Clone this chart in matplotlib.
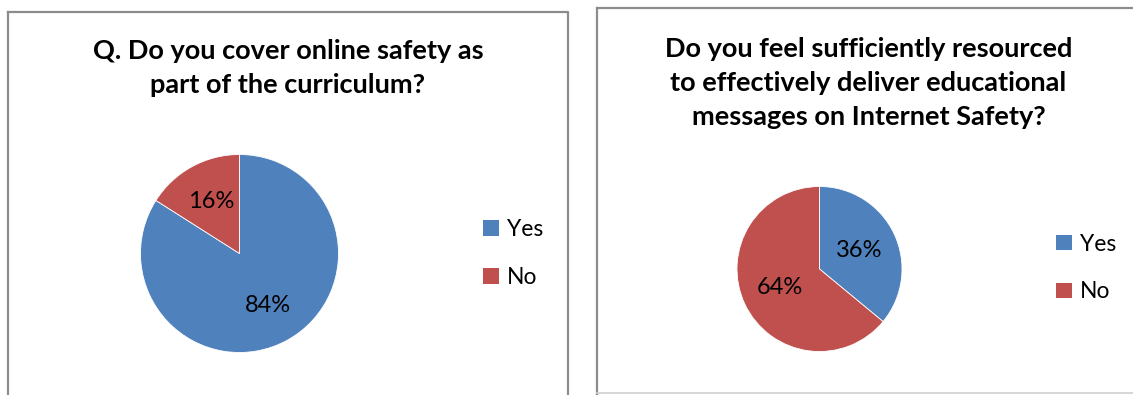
import matplotlib
matplotlib.use("Agg")
import matplotlib.pyplot as plt
from matplotlib.patches import Patch
from matplotlib.lines import Line2D

W, H = 1133, 395
DPI = 100

# Survey responses (percent)
categories = ["Yes", "No"]
cover_values = [84, 16]
resourced_values = [36, 64]

title_left = "Q. Do you cover online safety as\npart of the curriculum?"
title_right = ("Do you feel sufficiently resourced\n"
               "to effectively deliver educational\n"
               "messages on Internet Safety?")

colors = ["#4F81BD", "#C0504D"]
border = "#8C8C8C"
FONT = "Lato"

fig = plt.figure(figsize=(W / DPI, H / DPI), dpi=DPI)
fig.patch.set_facecolor("white")


def fx(x):
    return x / W


def fy(y):
    return 1 - y / H


def line(xs, ys, color=border, lw=1.6):
    fig.add_artist(Line2D([fx(v) for v in xs], [fy(v) for v in ys],
                          transform=fig.transFigure, color=color, lw=lw))


# Panel frames
line([8, 568, 568], [12, 12, 395])
line([8, 8], [12, 395])
line([597, 597], [395, 8])
line([597, 1133], [8, 8])
line([597, 1133], [392.5, 392.5], color="#D0D0D0", lw=1.2)


def pie_axes(cx, cy, r):
    return fig.add_axes([fx(cx - r), fy(cy + r), 2 * r / W, 2 * r / H])


def draw_pie(ax, values, pctdist):
    wedges, _, autotexts = ax.pie(
        values, colors=colors, startangle=90, counterclock=False,
        autopct=lambda p: f"{p:.0f}%", pctdistance=pctdist,
        wedgeprops=dict(edgecolor="white", linewidth=0.6),
        textprops=dict(fontsize=17, family=FONT, color="black"))
    ax.set_xlim(-1, 1)
    ax.set_ylim(-1, 1)
    ax.set_aspect("equal")
    ax.axis("off")
    return wedges


axL = pie_axes(239.5, 253.5, 99)
wL = draw_pie(axL, cover_values, 0.6)
axR = pie_axes(819.5, 269, 82.5)
wR = draw_pie(axR, resourced_values, 0.53)

# Titles
fig.text(fx(288), fy(39), title_left, ha="center", va="top",
         fontsize=19.5, fontweight="bold", family=FONT, linespacing=1.5)
fig.text(fx(868.5), fy(37), title_right, ha="center", va="top",
         fontsize=19.5, fontweight="bold", family=FONT, linespacing=1.5)

# Legends
handles = [Patch(facecolor=c, edgecolor="none") for c in colors]
for lx, ly in [(483, 253.5), (1056, 268)]:
    fig.legend(handles, categories, loc="center left",
               bbox_to_anchor=(fx(lx), fy(ly)), frameon=False,
               prop=dict(family=FONT, size=16.5),
               handlelength=0.68, handleheight=0.68, handletextpad=0.35,
               labelspacing=1.17, borderpad=0, borderaxespad=0)

fig.savefig("out.png", dpi=DPI, facecolor="white")
